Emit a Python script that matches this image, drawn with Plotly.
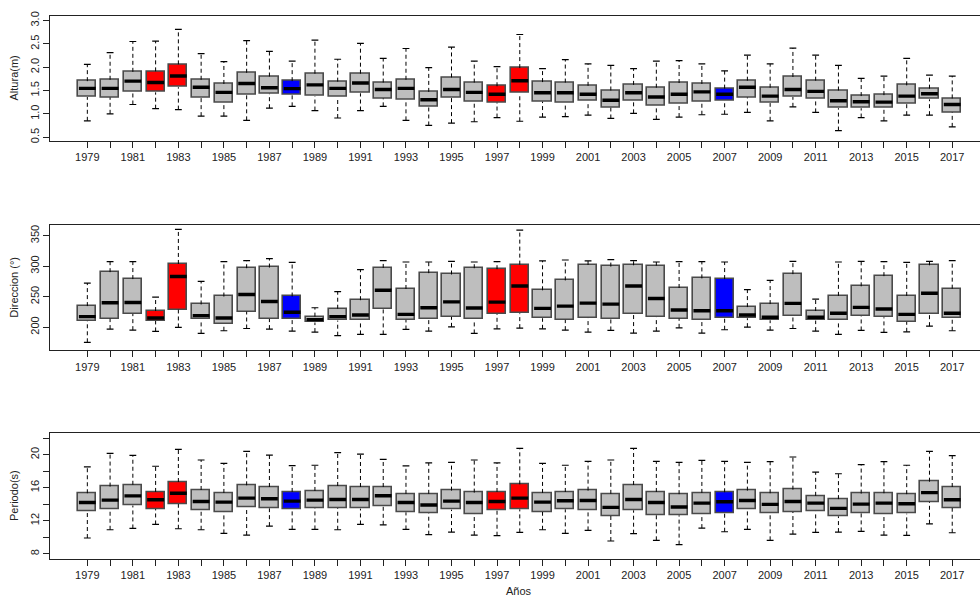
import plotly.graph_objects as go

years = list(range(1979, 2018))

# Colours per year (red: El Niño strong years, blue: highlighted years)
red_years = [1982, 1983, 1997, 1998]
blue_years = [1988, 2007]

# ---- Altura (m) ----
alt_low = [0.85, 1.00, 1.20, 1.11, 1.09, 0.95, 0.95, 0.86, 1.12, 1.16, 1.07, 0.91, 1.07, 1.16, 0.86, 0.75, 0.80, 0.83, 0.92, 0.84,
           0.93, 0.94, 0.97, 0.90, 1.01, 0.88, 0.93, 0.98, 0.99, 1.03, 0.85, 1.15, 1.03, 0.64, 0.92, 0.85, 0.97, 0.97, 0.72]
alt_q1 = [1.36, 1.35, 1.47, 1.46, 1.57, 1.35, 1.23, 1.40, 1.43, 1.40, 1.38, 1.36, 1.44, 1.33, 1.30, 1.14, 1.34, 1.26, 1.24, 1.44,
          1.26, 1.23, 1.27, 1.13, 1.27, 1.17, 1.21, 1.26, 1.27, 1.35, 1.23, 1.36, 1.33, 1.12, 1.12, 1.13, 1.21, 1.31, 1.03]
alt_med = [1.545, 1.545, 1.70, 1.67, 1.81, 1.57, 1.46, 1.65, 1.56, 1.54, 1.62, 1.545, 1.66, 1.52, 1.545, 1.30, 1.52, 1.46, 1.42, 1.71,
           1.45, 1.45, 1.42, 1.29, 1.45, 1.36, 1.42, 1.47, 1.42, 1.57, 1.38, 1.52, 1.48, 1.28, 1.26, 1.25, 1.38, 1.43, 1.20]
alt_q3 = [1.70, 1.73, 1.90, 1.91, 2.06, 1.73, 1.64, 1.88, 1.80, 1.70, 1.86, 1.69, 1.86, 1.67, 1.73, 1.47, 1.78, 1.67, 1.59, 1.98,
          1.68, 1.67, 1.60, 1.50, 1.62, 1.56, 1.66, 1.64, 1.54, 1.71, 1.56, 1.79, 1.71, 1.50, 1.38, 1.40, 1.61, 1.54, 1.33]
alt_high = [2.06, 2.31, 2.55, 2.56, 2.81, 2.29, 2.12, 2.57, 2.34, 2.13, 2.58, 2.17, 2.51, 2.19, 2.40, 1.99, 2.43, 2.13, 2.01, 2.70,
            1.97, 2.16, 2.07, 2.04, 1.97, 2.13, 2.14, 2.07, 1.92, 2.26, 2.07, 2.41, 2.26, 2.04, 1.76, 1.81, 2.19, 1.83, 1.81]

# ---- Direccion (°) ----
dir_low = [175.2, 196.8, 195.1, 193.0, 199.5, 189.7, 194.1, 197.8, 196.8, 193.5, 191.9, 186.0, 188.1, 188.1, 196.2, 193.5, 200.5, 189.7, 197.3, 198.4,
           197.3, 195.1, 191.9, 194.6, 190.3, 193.5, 198.9, 190.3, 195.7, 200.0, 195.1, 197.8, 193.5, 188.1, 194.6, 191.4, 192.4, 201.6, 194.1]
dir_q1 = [210.2, 214.0, 221.6, 210.2, 228.6, 212.4, 204.3, 225.4, 213.5, 212.4, 207.6, 210.8, 210.8, 230.2, 211.9, 213.0, 216.7, 212.4, 221.6, 222.7,
          214.6, 211.9, 215.1, 213.5, 222.1, 216.7, 214.0, 210.8, 215.6, 214.6, 211.3, 218.9, 210.8, 210.8, 218.3, 216.2, 208.6, 222.1, 214.6]
dir_med = [217.3, 239.9, 240.5, 215.1, 283.1, 218.9, 215.1, 253.4, 242.1, 224.3, 212.4, 217.3, 220.0, 260.4, 221.0, 231.8, 241.5, 231.3, 241.0, 267.4,
           230.8, 234.5, 239.4, 237.8, 267.4, 246.9, 228.1, 227.0, 227.0, 220.0, 216.2, 238.9, 216.2, 222.7, 232.4, 229.7, 221.0, 255.6, 222.7]
dir_q3 = [234.5, 290.1, 278.8, 226.4, 303.6, 237.2, 250.2, 296.6, 297.7, 250.2, 217.3, 230.2, 244.2, 297.1, 262.6, 288.5, 286.3, 296.6, 295.0, 302.5,
          260.4, 276.6, 302.0, 299.3, 301.4, 300.9, 264.2, 279.9, 278.8, 232.9, 237.8, 286.9, 226.4, 251.3, 266.9, 283.6, 251.3, 301.4, 263.1]
dir_high = [272.3, 307.4, 307.4, 249.1, 360.3, 275.0, 307.4, 309.0, 312.2, 306.3, 231.8, 258.3, 294.4, 309.0, 306.8, 306.8, 307.9, 306.8, 307.4, 359.2,
            308.5, 310.1, 308.5, 310.6, 309.0, 306.8, 307.4, 307.4, 306.8, 261.5, 276.6, 307.9, 245.9, 306.8, 307.9, 307.4, 306.3, 307.9, 309.0]

# ---- Periodo (s) ----
per_low = [9.91, 10.91, 11.07, 11.55, 11.03, 10.91, 10.47, 10.27, 11.35, 10.95, 10.95, 10.91, 11.55, 11.51, 10.95, 10.31, 10.63, 10.27, 10.19, 10.59,
           10.91, 10.47, 10.83, 9.55, 10.43, 9.63, 9.11, 11.11, 10.67, 10.95, 9.63, 10.39, 10.59, 10.63, 10.71, 10.27, 10.23, 11.63, 10.55]
per_q1 = [13.14, 13.42, 13.84, 13.42, 14.02, 13.22, 13.02, 13.62, 13.50, 13.42, 13.54, 13.54, 13.46, 13.82, 13.02, 12.90, 13.34, 12.82, 13.26, 13.38,
          13.06, 13.38, 13.26, 12.58, 13.26, 12.70, 12.66, 12.74, 12.94, 13.34, 12.90, 13.06, 13.14, 12.54, 12.90, 12.78, 12.86, 14.30, 13.54]
per_med = [14.22, 14.50, 15.01, 14.54, 15.33, 14.34, 14.26, 14.74, 14.66, 14.38, 14.50, 14.58, 14.58, 15.02, 14.22, 13.90, 14.38, 14.22, 14.34, 14.74,
           14.26, 14.42, 14.46, 13.62, 14.58, 14.22, 13.66, 14.14, 14.30, 14.46, 13.98, 14.34, 14.14, 13.50, 14.02, 14.14, 14.06, 15.41, 14.54]
per_q3 = [15.33, 16.14, 16.36, 15.49, 16.69, 15.73, 15.37, 16.29, 16.09, 15.49, 15.61, 16.21, 16.09, 16.09, 15.26, 15.26, 15.65, 15.41, 15.49, 16.41,
          15.37, 15.49, 15.65, 15.26, 16.33, 15.49, 15.22, 15.37, 15.45, 15.65, 15.33, 15.77, 15.02, 14.62, 15.29, 15.33, 15.22, 16.73, 16.09]
per_high = [18.52, 20.16, 19.92, 18.60, 20.64, 19.36, 18.96, 20.40, 19.96, 18.68, 18.72, 20.24, 20.08, 19.44, 18.64, 19.00, 19.08, 19.36, 19.00, 20.76,
            18.96, 18.72, 19.20, 19.36, 20.76, 19.20, 19.08, 19.32, 19.20, 19.08, 19.16, 19.72, 17.89, 17.69, 18.80, 19.16, 18.72, 20.40, 19.88]

x_ticklabels = [str(y) if (y - 1979) % 2 == 0 else "" for y in years]

GRAY, RED, BLUE = "#BEBEBE", "#FF0000", "#0000FF"
colors = [RED if y in red_years else BLUE if y in blue_years else GRAY for y in years]

BOX_W = 0.8
CAP_HW = 0.15
FONT = "Liberation Sans, Arial, sans-serif"

W, H = 980, 598


def py(p):  # window pixel row -> paper y fraction
    return 1 - p / H


def px(p):  # window pixel column -> paper x fraction
    return p / W


fig = go.Figure()


def add_panel(n, low, q1, med, q3, high):
    xa = "x" if n == 1 else f"x{n}"
    ya = "y" if n == 1 else f"y{n}"
    wx, wy = [], []
    for x, a, b, c, d in zip(years, low, q1, q3, high):
        wx += [x, x, None, x, x, None]
        wy += [a, b, None, c, d, None]
    fig.add_trace(go.Scatter(x=wx, y=wy, mode="lines", xaxis=xa, yaxis=ya,
                             line=dict(color="black", width=1, dash="4px,3px"),
                             hoverinfo="skip", showlegend=False))
    cx, cy = [], []
    for x, a, d in zip(years, low, high):
        cx += [x - CAP_HW, x + CAP_HW, None, x - CAP_HW, x + CAP_HW, None]
        cy += [a, a, None, d, d, None]
    fig.add_trace(go.Scatter(x=cx, y=cy, mode="lines", xaxis=xa, yaxis=ya,
                             line=dict(color="black", width=1.2),
                             hoverinfo="skip", showlegend=False))
    fig.add_trace(go.Bar(x=years, base=q1, y=[b - a for a, b in zip(q1, q3)],
                         width=BOX_W, xaxis=xa, yaxis=ya,
                         marker=dict(color=colors, line=dict(color="#4a4a4a", width=1.6)),
                         showlegend=False))
    mx, my = [], []
    for x, m in zip(years, med):
        mx += [x - BOX_W / 2 + 0.03, x + BOX_W / 2 - 0.03, None]
        my += [m, m, None]
    fig.add_trace(go.Scatter(x=mx, y=my, mode="lines", xaxis=xa, yaxis=ya,
                             line=dict(color="black", width=3.4),
                             hoverinfo="skip", showlegend=False))


add_panel(1, alt_low, alt_q1, alt_med, alt_q3, alt_high)
add_panel(2, dir_low, dir_q1, dir_med, dir_q3, dir_high)
add_panel(3, per_low, per_q1, per_med, per_q3, per_high)

xrange = [1977.36, 2018.22]
xcommon = dict(range=xrange, tickvals=years, ticktext=x_ticklabels, ticks="outside",
               ticklen=6, tickcolor="#222", showline=True, linecolor="#222", linewidth=1.2,
               mirror=True, showgrid=False, zeroline=False, tickangle=0,
               tickfont=dict(family=FONT, size=11, color="#222"), domain=[px(50), 1.0])
ycommon = dict(ticks="outside", ticklen=6, tickcolor="#222", showline=True, linecolor="#222",
               linewidth=1.2, mirror=False, showgrid=False, zeroline=False, tickangle=-90,
               tickfont=dict(family=FONT, size=11, color="#222"))

panels = [(11, 137.7), (222.7, 349.3), (433.3, 560.3)]

layout = dict(
    width=W, height=H, paper_bgcolor="white", plot_bgcolor="white",
    margin=dict(l=0, r=0, t=0, b=0), bargap=0, barmode="overlay",
    xaxis=dict(**xcommon, anchor="y"),
    xaxis2=dict(**xcommon, anchor="y2"),
    xaxis3=dict(**xcommon, anchor="y3"),
    yaxis=dict(**ycommon, anchor="x", domain=[py(panels[0][1]), py(panels[0][0])],
               range=[0.415, 3.1], tickvals=[0.5, 1.0, 1.5, 2.0, 2.5, 3.0],
               ticktext=["0.5", "1.0", "1.5", "2.0", "2.5", "3.0"]),
    yaxis2=dict(**ycommon, anchor="x2", domain=[py(panels[1][1]), py(panels[1][0])],
                range=[162.2, 367.3], tickvals=[200, 250, 300, 350],
                ticktext=["200", "250", "300", "350"]),
    yaxis3=dict(**ycommon, anchor="x3", domain=[py(panels[2][1]), py(panels[2][0])],
                range=[7.4, 22.6], tickvals=[8, 10, 12, 14, 16, 18, 20, 22],
                ticktext=["8", "", "12", "", "16", "", "20", ""]),
    font=dict(family=FONT, size=11, color="#222"),
)
fig.update_layout(**layout)

titles = ["Altura(m)", "Direccion (°)", "Periodo(s)"]
for t, (top, bot) in zip(titles, panels):
    fig.add_annotation(text=t, xref="paper", yref="paper", x=px(14), y=py((top + bot) / 2),
                       showarrow=False, textangle=-90, xanchor="center", yanchor="middle",
                       font=dict(family=FONT, size=11, color="#222"))
fig.add_annotation(text="Años", xref="paper", yref="paper", x=px(519), y=py(592.5),
                   showarrow=False, xanchor="center", yanchor="middle",
                   font=dict(family=FONT, size=11, color="#222"))

fig.write_html("out.html", config={"displayModeBar": False},
               post_script="document.body.style.margin='0';document.body.style.overflow='hidden';")
